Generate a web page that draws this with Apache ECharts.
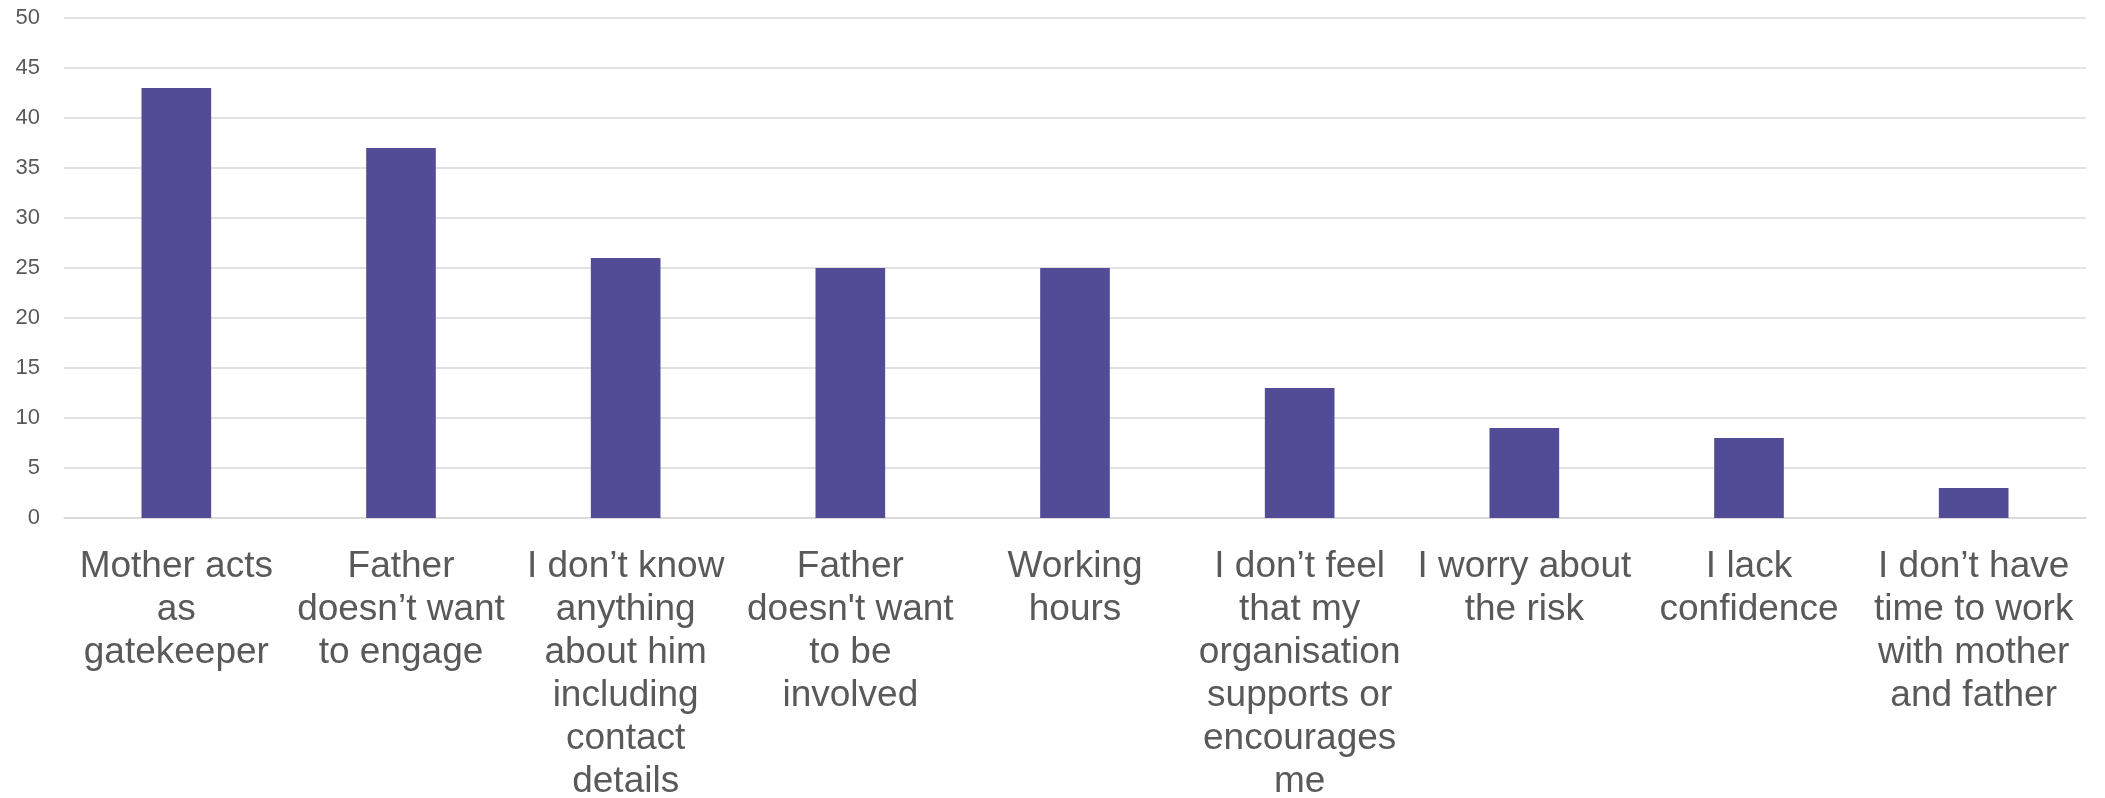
<!DOCTYPE html>
<html>
<head>
<meta charset="utf-8">
<script src="https://cdn.jsdelivr.net/npm/echarts@6/dist/echarts.min.js"></script>
<style>
  html, body { margin: 0; padding: 0; background: #fff; }
  #main { width: 2105px; height: 798px; }
</style>
</head>
<body>
<div id="main"></div>
<script>
// categories, wrapped the way the original labels wrap
var categories = [
  'Mother acts\nas\ngatekeeper',
  'Father\ndoesn\u2019t want\nto engage',
  'I don\u2019t know\nanything\nabout him\nincluding\ncontact\ndetails',
  'Father\ndoesn\'t want\nto be\ninvolved',
  'Working\nhours',
  'I don\u2019t feel\nthat my\norganisation\nsupports or\nencourages\nme',
  'I worry about\nthe risk',
  'I lack\nconfidence',
  'I don\u2019t have\ntime to work\nwith mother\nand father'
];
var counts = [43, 37, 26, 25, 25, 13, 9, 8, 3];
var yMin = 0, yMax = 50, yStep = 5;

var myChart = echarts.init(document.getElementById('main'));
myChart.setOption({
  animation: false,
  // keep the plot where it is even though the long labels run to the bottom edge
  grid: { left: 64, right: 19, top: 18, bottom: 280, containLabel: false, outerBoundsMode: 'none' },
  xAxis: {
    type: 'category',
    data: categories,
    axisLine: { show: true, lineStyle: { color: '#d9d9d9', width: 1.5 } },
    axisTick: { show: false },
    axisLabel: {
      interval: 0,
      margin: 27,
      color: '#595959',
      fontFamily: '"Liberation Sans", Arial, sans-serif',
      fontSize: 37,
      lineHeight: 43,
      align: 'center'
    }
  },
  yAxis: {
    type: 'value',
    min: yMin,
    max: yMax,
    interval: yStep,
    axisLine: { show: false },
    axisTick: { show: false },
    splitLine: { lineStyle: { color: '#d9d9d9', width: 1.5 } },
    axisLabel: {
      margin: 24,
      color: '#595959',
      fontFamily: '"Liberation Sans", Arial, sans-serif',
      fontSize: 22
    }
  },
  series: [{
    type: 'bar',
    data: counts,
    barWidth: '31%',
    itemStyle: { color: '#524c96' }
  }]
});
</script>
</body>
</html>
